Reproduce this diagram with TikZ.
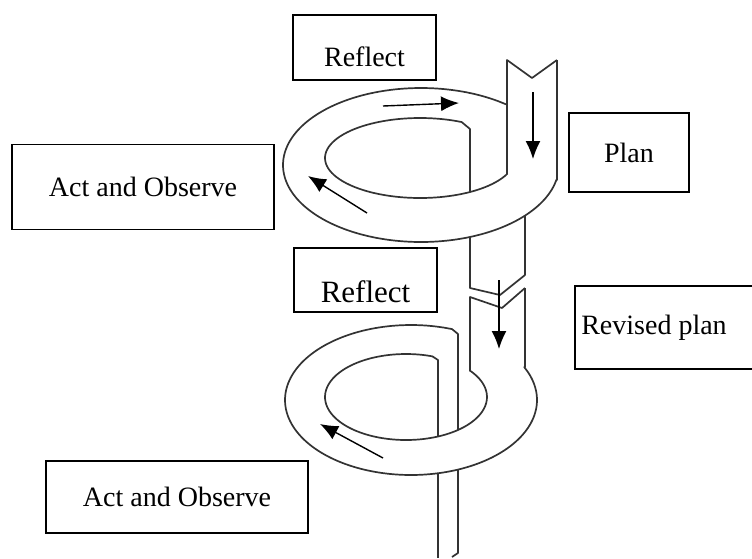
\documentclass[tikz,border=0pt]{standalone}
\usepackage{fontspec}
\setmainfont{Liberation Serif}
\usetikzlibrary{arrows.meta}
\tikzset{
  stage/.style={draw, line width=1.2pt, inner sep=0pt, font=\fontsize{28}{30}\selectfont},
  ribbon/.style={line width=1.7pt, black!80, line join=round},
  flow/.style={line width=1.4pt, -{Latex[length=18pt,width=15pt]}},
}

\begin{document}
\begin{tikzpicture}[x=1pt,y=-1pt]
  \useasboundingbox (0,0) rectangle (752,558);

  % the boxes
  \node[stage, minimum width=143pt, minimum height=65pt, text height=39pt, text depth=2pt] (reflectA) at (364.5,47.5) {Reflect};
  \node[stage, minimum width=120pt, minimum height=79pt] (plan) at (629,152.5) {Plan};
  \node[stage, minimum width=262pt, minimum height=85pt] (actA) at (143,187) {Act and Observe};
  \node[stage, minimum width=143pt, minimum height=64pt, text height=46pt, text depth=2pt, font=\fontsize{31}{33}\selectfont] (reflectB) at (365.5,280) {Reflect};
  \node[font=\fontsize{28}{30}\selectfont] (revised) at (654,327.5) {Revised plan};
  \draw[line width=1.2pt] (752,286) -| (575,369) -- (752,369);
  \node[stage, minimum width=262pt, minimum height=72pt] (actB) at (177,497) {Act and Observe};

  % upper turn of the spiral
  \draw[ribbon] (557,60) -- (557,180) -- plot[domain=11:308, samples=80, smooth] ({421+138*cos(\x)},{165+77*sin(\x)});
  \draw[ribbon] (557,60) -- (532,78) -- (507,60) -- (507,174) -- plot[domain=23.7:296, samples=80, smooth] ({420+95*cos(\x)},{158+40*sin(\x)}) -- (470,129) -- (470,192);
  \draw[ribbon] (470,237) -- (470,288) -- (500,295) -- (525,275) -- (525,216);

  % lower turn of the spiral
  \draw[ribbon] (525,288) -- (525,367) -- plot[domain=-26:289, samples=80, smooth] ({411+126*cos(\x)},{400+75*sin(\x)}) -- (458,334) -- (458,430);
  \draw[ribbon] (525,288) -- (502,308) -- (470,297) -- (470,371) -- plot[domain=-37.8:289, samples=80, smooth] ({406+81*cos(\x)},{397+43*sin(\x)}) -- (438,360) -- (438,436);
  \draw[ribbon] (438,473) -- (438,558);
  \draw[ribbon] (458,470) -- (458,553) -- (452,557);

  % direction
  \draw[flow] (383,106) -- (459,103);
  \draw[flow] (533,92) -- (533,159);
  \draw[flow] (367,213) -- (308,176);
  \draw[flow] (499,280) -- (499,349);
  \draw[flow] (383,458) -- (320,424);
\end{tikzpicture}
\end{document}
